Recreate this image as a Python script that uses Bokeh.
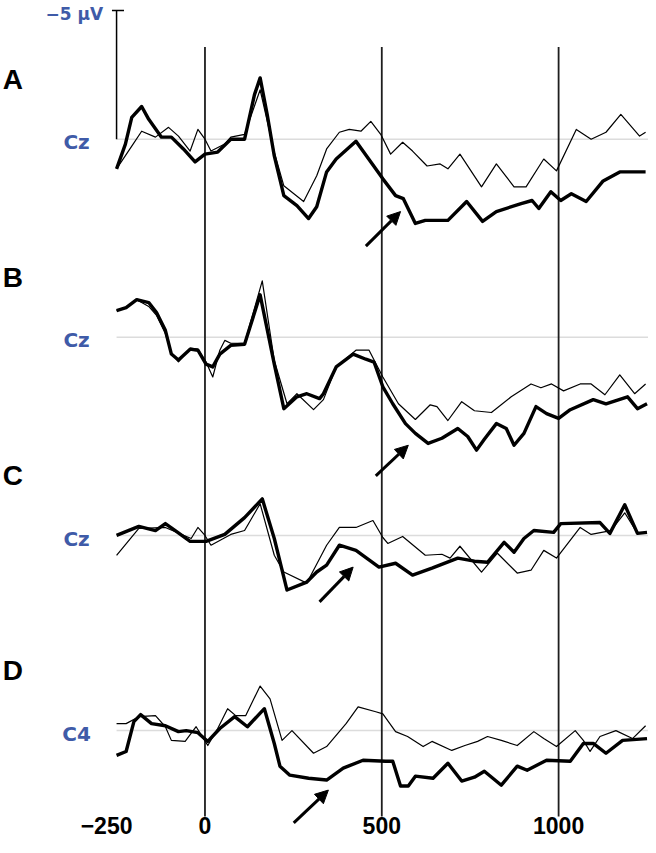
from bokeh.plotting import figure
from bokeh.models import Range1d, Arrow, NormalHead
from bokeh.embed import file_html
from bokeh.resources import INLINE
from bokeh.core.properties import value

# ---------------- data: time (ms) and amplitude (µV, negative plotted up) -------------
A_thick_ms = [-250, -225, -207, -179, -159, -123, -95, -61, -28, 0, 36, 73, 112, 140, 156, 176, 196, 223, 260, 293,
              316, 344, 371, 427, 503, 539, 561, 595, 623, 687, 740, 785, 824, 894, 925, 944, 978, 1006, 1036, 1078,
              1126, 1173, 1246]
A_thick_uv = [1.15, 0.19, -0.85, -1.27, -0.77, -0.08, -0.08, 0.38, 0.88, 0.58, 0.50, 0.00, 0.00, -1.73, -2.38, -0.96,
              0.65, 2.19, 2.58, 3.08, 2.62, 1.27, 0.77, 0.08, 1.54, 2.19, 2.31, 3.27, 3.15, 3.15, 2.42, 3.19, 2.81,
              2.50, 2.38, 2.69, 2.04, 2.38, 2.12, 2.42, 1.62, 1.27, 1.27]
A_thin_ms = [-250, -207, -179, -140, -103, -75, -42, -20, 0, 17, 56, 73, 112, 156, 196, 223, 279, 316, 344, 380,
             408, 441, 469, 497, 525, 559, 587, 628, 665, 687, 721, 782, 824, 874, 908, 958, 994, 1050, 1092, 1134,
             1176, 1229, 1246]
A_thin_uv = [1.15, 0.27, -0.31, -0.08, -0.46, -0.12, 0.46, -0.38, 0.00, 0.46, 0.19, -0.08, -0.19, -1.92, 0.50, 1.81,
             2.42, 1.42, 0.38, -0.27, -0.38, -0.31, -0.69, -0.19, 0.58, 0.12, 0.46, 1.04, 0.96, 1.15, 0.58, 1.85,
             0.96, 1.85, 1.85, 0.77, 1.23, -0.38, 0.00, -0.27, -0.96, -0.12, -0.27]

B_thick_ms = [-250, -223, -193, -159, -137, -112, -95, -75, -42, -20, 3, 22, 42, 73, 112, 156, 196, 223, 260, 288,
              324, 335, 371, 419, 455, 478, 503, 531, 567, 595, 631, 670, 715, 743, 768, 790, 824, 852, 874, 902,
              936, 966, 1000, 1033, 1098, 1134, 1195, 1223, 1250]
B_thick_uv = [-1.04, -1.15, -1.46, -1.35, -0.96, -0.27, 0.65, 0.88, 0.46, 0.50, 1.04, 1.15, 0.65, 0.31, 0.27, -1.65,
              1.04, 2.77, 2.31, 2.19, 2.38, 2.19, 1.15, 0.65, 0.85, 0.96, 1.92, 2.58, 3.35, 3.73, 4.12, 3.92, 3.54,
              3.85, 4.38, 3.96, 3.35, 3.54, 4.19, 3.73, 2.69, 2.96, 3.15, 2.81, 2.42, 2.58, 2.31, 2.77, 2.58]
B_thin_ms = [-250, -223, -193, -159, -137, -112, -95, -75, -42, -20, 3, 22, 42, 56, 73, 112, 162, 196, 232, 260,
             307, 335, 371, 427, 464, 503, 547, 595, 637, 656, 687, 726, 762, 810, 866, 922, 950, 980, 1014, 1061,
             1092, 1131, 1173, 1215, 1246]
B_thin_uv = [-1.04, -1.15, -1.46, -1.20, -0.85, -0.15, 0.60, 0.95, 0.42, 0.46, 0.96, 1.54, 0.50, 0.12, 0.23, 0.23,
             -2.19, 0.90, 2.58, 2.19, 2.81, 2.42, 1.15, 0.50, 0.50, 1.54, 2.58, 3.19, 2.62, 2.69, 3.23, 2.50, 2.85,
             2.92, 2.31, 1.81, 1.96, 1.81, 2.08, 1.81, 1.81, 2.23, 1.46, 2.19, 1.81]

C_thick_ms = [-250, -187, -140, -112, -84, -42, 3, 56, 112, 162, 196, 232, 288, 316, 344, 380, 427, 492, 539, 587,
              642, 715, 762, 799, 846, 874, 902, 930, 986, 1006, 1117, 1145, 1187, 1223, 1250]
C_thick_uv = [0.00, -0.35, -0.19, -0.46, -0.19, 0.23, 0.23, -0.04, -0.69, -1.42, 0.12, 2.12, 1.81, 1.42, 1.15, 0.38,
              0.58, 1.23, 1.08, 1.54, 1.27, 0.88, 1.00, 1.04, 0.27, 0.65, 0.12, -0.19, -0.12, -0.46, -0.50, -0.08,
              -1.19, -0.08, -0.12]
C_thin_ms = [-250, -187, -112, -39, -20, 0, 17, 73, 112, 156, 196, 223, 288, 344, 380, 427, 475, 503, 517, 559,
             623, 670, 693, 721, 782, 827, 883, 922, 958, 994, 1061, 1092, 1148, 1187, 1223, 1250]
C_thin_uv = [0.77, -0.27, -0.31, 0.12, -0.31, 0.00, 0.38, -0.04, -0.19, -1.23, 0.77, 1.42, 1.85, 0.38, -0.31, -0.31,
             -0.58, 0.08, 0.31, 0.04, 0.77, 0.73, 0.88, 0.42, 1.42, 0.69, 1.46, 1.35, 0.58, 0.88, -0.31, -0.04,
             -0.19, -0.88, -0.08, -0.12]

D_thick_ms = [-250, -223, -201, -182, -151, -112, -75, -53, -20, 8, 42, 84, 120, 168, 196, 212, 240, 293, 344, 391,
              447, 511, 531, 553, 575, 595, 645, 687, 726, 762, 790, 838, 883, 911, 966, 1033, 1070, 1098, 1134,
              1181, 1250]
D_thick_uv = [0.96, 0.81, -0.35, -0.62, -0.27, -0.19, 0.04, 0.00, 0.08, 0.42, -0.08, -0.54, -0.15, -0.85, 0.50, 1.38,
              1.73, 1.85, 1.92, 1.46, 1.15, 1.19, 1.19, 2.15, 2.15, 1.77, 1.85, 1.27, 1.96, 1.81, 1.58, 2.12, 1.38,
              1.54, 1.15, 1.19, 0.50, 0.50, 0.88, 0.38, 0.31]
D_thin_ms = [-250, -223, -187, -140, -112, -95, -56, -25, 8, 36, 64, 87, 115, 156, 184, 218, 246, 307, 344, 399,
             433, 483, 503, 539, 573, 617, 642, 698, 735, 771, 799, 838, 883, 930, 958, 994, 1047, 1070, 1089, 1117,
             1162, 1209, 1246]
D_thin_uv = [-0.27, -0.27, -0.54, -0.58, -0.15, 0.38, 0.42, -0.15, 0.58, -0.08, -0.85, -0.58, -0.58, -1.73, -1.23,
             0.38, 0.00, 0.88, 0.62, -0.27, -0.92, -0.73, -0.65, 0.04, 0.23, 0.62, 0.42, 0.77, 0.58, 0.42, 0.23,
             0.38, 0.58, 0.04, 0.31, 0.62, 0.00, 0.38, 0.81, 0.23, 0.00, 0.31, -0.19]

panel_letters = ["A", "B", "C", "D"]
channels = ["Cz", "Cz", "Cz", "C4"]
x_ticks = [-250, 0, 500, 1000]
x_tick_labels = ["\u2212250", "0", "500", "1000"]
marker_lines_ms = [0, 500, 1000]
scale_uv = -5
scale_label = "\u22125 \u00b5V"
# arrows: (tail ms, tail µV, tip ms, tip µV)
arrows = [(455, 4.15, 553, 2.81), (483, 5.38, 575, 4.19), (324, 2.58, 419, 1.23), (251, 3.58, 349, 2.31)]

# ---------------- layout ----------------
PX_PER_UV = 26.0
offsets = [0.0, 200 / PX_PER_UV, 400 / PX_PER_UV, 597 / PX_PER_UV]
BLUE = "#3f5ba8"

p = figure(width=648, height=845, output_backend="svg", toolbar_location=None,
           x_range=Range1d(-578.2, 1254.2), y_range=Range1d(27.423, -5.385),
           x_axis_type=None, y_axis_type=None, min_border=0,
           outline_line_color=None, background_fill_color="white", border_fill_color="white")
p.grid.visible = False

series = [(A_thick_ms, A_thick_uv, A_thin_ms, A_thin_uv),
          (B_thick_ms, B_thick_uv, B_thin_ms, B_thin_uv),
          (C_thick_ms, C_thick_uv, C_thin_ms, C_thin_uv),
          (D_thick_ms, D_thick_uv, D_thin_ms, D_thin_uv)]

# baselines
for off in offsets:
    p.line([-250, 1254], [off, off], line_color="#dcdcdc", line_width=1.5)

# stimulus-time vertical lines
p.segment(x0=marker_lines_ms, y0=[-3.58] * 3, x1=marker_lines_ms, y1=[26.3] * 3,
          line_color="#1e1e1e", line_width=1.8)

# waveforms
for (tk_ms, tk_uv, tn_ms, tn_uv), off in zip(series, offsets):
    p.line(tn_ms, [v + off for v in tn_uv], line_color="black", line_width=1.2, line_join="round")
    p.line(tk_ms, [v + off for v in tk_uv], line_color="black", line_width=3.4, line_join="round")

# scale bar
p.segment(x0=[-250], y0=[0], x1=[-250], y1=[scale_uv], line_color="black", line_width=1.5)
p.segment(x0=[-263], y0=[scale_uv], x1=[-229], y1=[scale_uv], line_color="black", line_width=1.5)
p.text(x=[-288], y=[scale_uv + 0.12], text=[scale_label], text_font=value("DejaVu Sans"),
       text_font_style="bold", text_font_size="17px", text_color=BLUE,
       text_align="right", text_baseline="middle")

# channel labels
p.text(x=[-363] * 4, y=[off + 0.12 for off in offsets], text=channels, text_font=value("DejaVu Sans"),
       text_font_style="bold", text_font_size="20px", text_color=BLUE,
       text_align="center", text_baseline="middle")

# panel letters
p.text(x=[-572] * 4, y=[off - 2.33 for off in offsets], text=panel_letters,
       text_font=value("Liberation Sans"), text_font_style="bold", text_font_size="28px",
       text_color="black", text_align="left", text_baseline="middle")

# tick labels (kept fully inside the canvas)
for t, lab in zip(x_ticks, x_tick_labels):
    p.text(x=[t], y=[26.98], text=[lab], x_offset=-10 if lab.startswith("\u2212") else 0,
           text_font=value("Liberation Sans"), text_font_style="bold", text_font_size="23px",
           text_color="black", text_align="center", text_baseline="bottom")

# arrows
for (x0, y0, x1, y1), off in zip(arrows, offsets):
    p.add_layout(Arrow(end=NormalHead(size=13, fill_color="black", line_color="black", line_width=1),
                       x_start=x0, y_start=y0 + off, x_end=x1, y_end=y1 + off,
                       line_color="black", line_width=3))

open("out.html", "w").write(file_html(p, INLINE))
